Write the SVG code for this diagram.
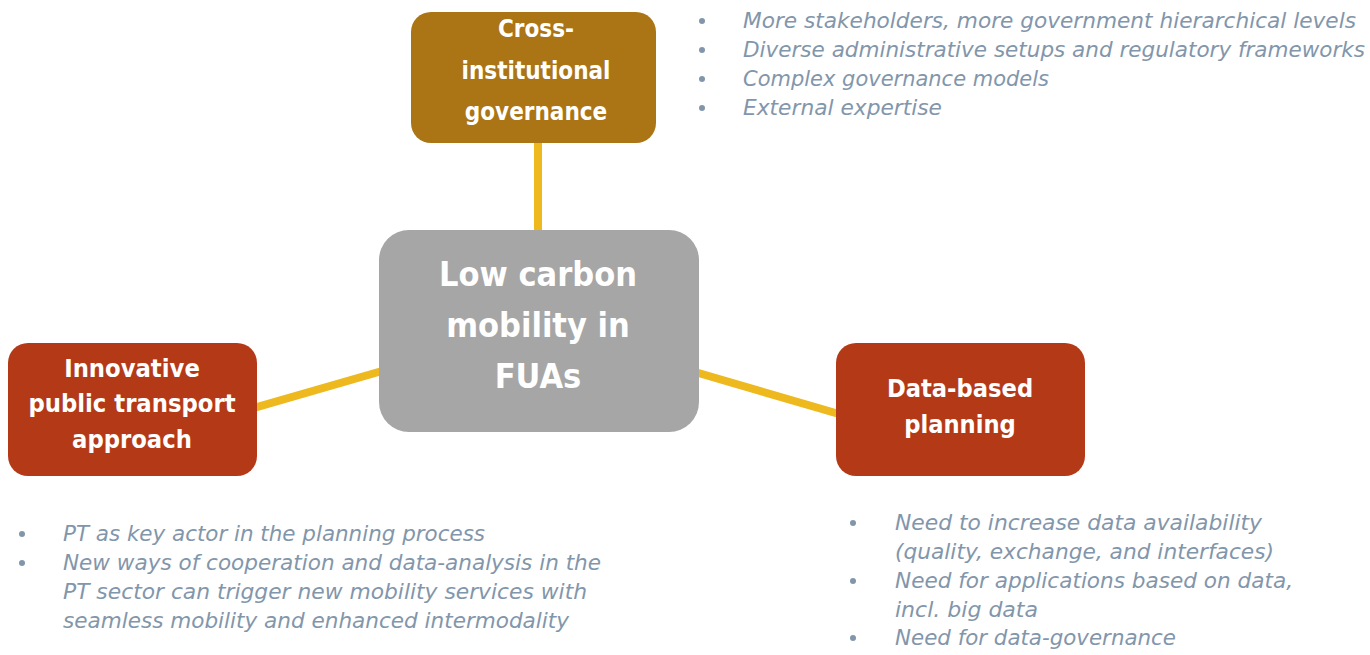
<svg xmlns="http://www.w3.org/2000/svg" width="1370" height="655" viewBox="0 0 1370 655">
<style>
.lbl{font-family:"DejaVu Sans Condensed","DejaVu Sans",sans-serif;font-weight:bold;fill:#ffffff;text-anchor:middle}
.bl{font-family:"DejaVu Sans Condensed","DejaVu Sans",sans-serif;font-style:italic;font-size:22px;fill:#8296AB}
.dot{fill:#8296AB}
.conn{stroke:#EDB91E;stroke-width:8;fill:none}
</style>
<rect width="1370" height="655" fill="#ffffff"/>
<g id="connectors">
<line class="conn" x1="538" y1="140" x2="538" y2="234"/>
<line class="conn" x1="254" y1="408" x2="382" y2="371"/>
<line class="conn" x1="695" y1="372" x2="839" y2="414"/>
</g>
<g id="node-center">
<rect x="379" y="230" width="320" height="202" rx="30" fill="#A6A6A6"/>
<text class="lbl" font-size="34" x="538" y="286">Low carbon</text>
<text class="lbl" font-size="34" x="538" y="337">mobility in</text>
<text class="lbl" font-size="34" x="538" y="388">FUAs</text>
</g>
<g id="node-governance">
<rect x="411" y="12" width="245" height="131" rx="20" fill="#AB7415"/>
<text class="lbl" font-size="24" x="536" y="37">Cross-</text>
<text class="lbl" font-size="24" x="536" y="79">institutional</text>
<text class="lbl" font-size="24" x="536" y="120">governance</text>
</g>
<g id="node-pt">
<rect x="8" y="343" width="249" height="133" rx="20" fill="#B43917"/>
<text class="lbl" font-size="25.3" x="132" y="377">Innovative</text>
<text class="lbl" font-size="25.3" x="132" y="412">public transport</text>
<text class="lbl" font-size="25.3" x="132" y="448">approach</text>
</g>
<g id="node-data">
<rect x="836" y="343" width="249" height="133" rx="20" fill="#B43917"/>
<text class="lbl" font-size="25.2" x="960" y="397">Data-based</text>
<text class="lbl" font-size="25.2" x="960" y="433">planning</text>
</g>
<g id="notes-governance">
<circle class="dot" cx="702" cy="21" r="3"/>
<circle class="dot" cx="702" cy="50" r="3"/>
<circle class="dot" cx="702" cy="79" r="3"/>
<circle class="dot" cx="702" cy="108" r="3"/>
<text class="bl" x="743" y="28" textLength="613" lengthAdjust="spacingAndGlyphs">More stakeholders, more government hierarchical levels</text>
<text class="bl" x="743" y="57" textLength="622" lengthAdjust="spacingAndGlyphs">Diverse administrative setups and regulatory frameworks</text>
<text class="bl" x="743" y="86" textLength="306" lengthAdjust="spacingAndGlyphs">Complex governance models</text>
<text class="bl" x="743" y="115" textLength="199" lengthAdjust="spacingAndGlyphs">External expertise</text>
</g>
<g id="notes-pt">
<circle class="dot" cx="22" cy="534" r="3"/>
<circle class="dot" cx="22" cy="563" r="3"/>
<text class="bl" x="63" y="541" textLength="422" lengthAdjust="spacingAndGlyphs">PT as key actor in the planning process</text>
<text class="bl" x="63" y="570" textLength="538" lengthAdjust="spacingAndGlyphs">New ways of cooperation and data-analysis in the</text>
<text class="bl" x="63" y="599" textLength="524" lengthAdjust="spacingAndGlyphs">PT sector can trigger new mobility services with</text>
<text class="bl" x="63" y="628" textLength="506" lengthAdjust="spacingAndGlyphs">seamless mobility and enhanced intermodality</text>
</g>
<g id="notes-data">
<circle class="dot" cx="853" cy="523" r="3"/>
<circle class="dot" cx="853" cy="581" r="3"/>
<circle class="dot" cx="853" cy="638" r="3"/>
<text class="bl" x="895" y="530" textLength="367" lengthAdjust="spacingAndGlyphs">Need to increase data availability</text>
<text class="bl" x="895" y="559" textLength="379" lengthAdjust="spacingAndGlyphs">(quality, exchange, and interfaces)</text>
<text class="bl" x="895" y="588" textLength="398" lengthAdjust="spacingAndGlyphs">Need for applications based on data,</text>
<text class="bl" x="895" y="617" textLength="143" lengthAdjust="spacingAndGlyphs">incl. big data</text>
<text class="bl" x="895" y="645" textLength="281" lengthAdjust="spacingAndGlyphs">Need for data-governance</text>
</g>
</svg>
